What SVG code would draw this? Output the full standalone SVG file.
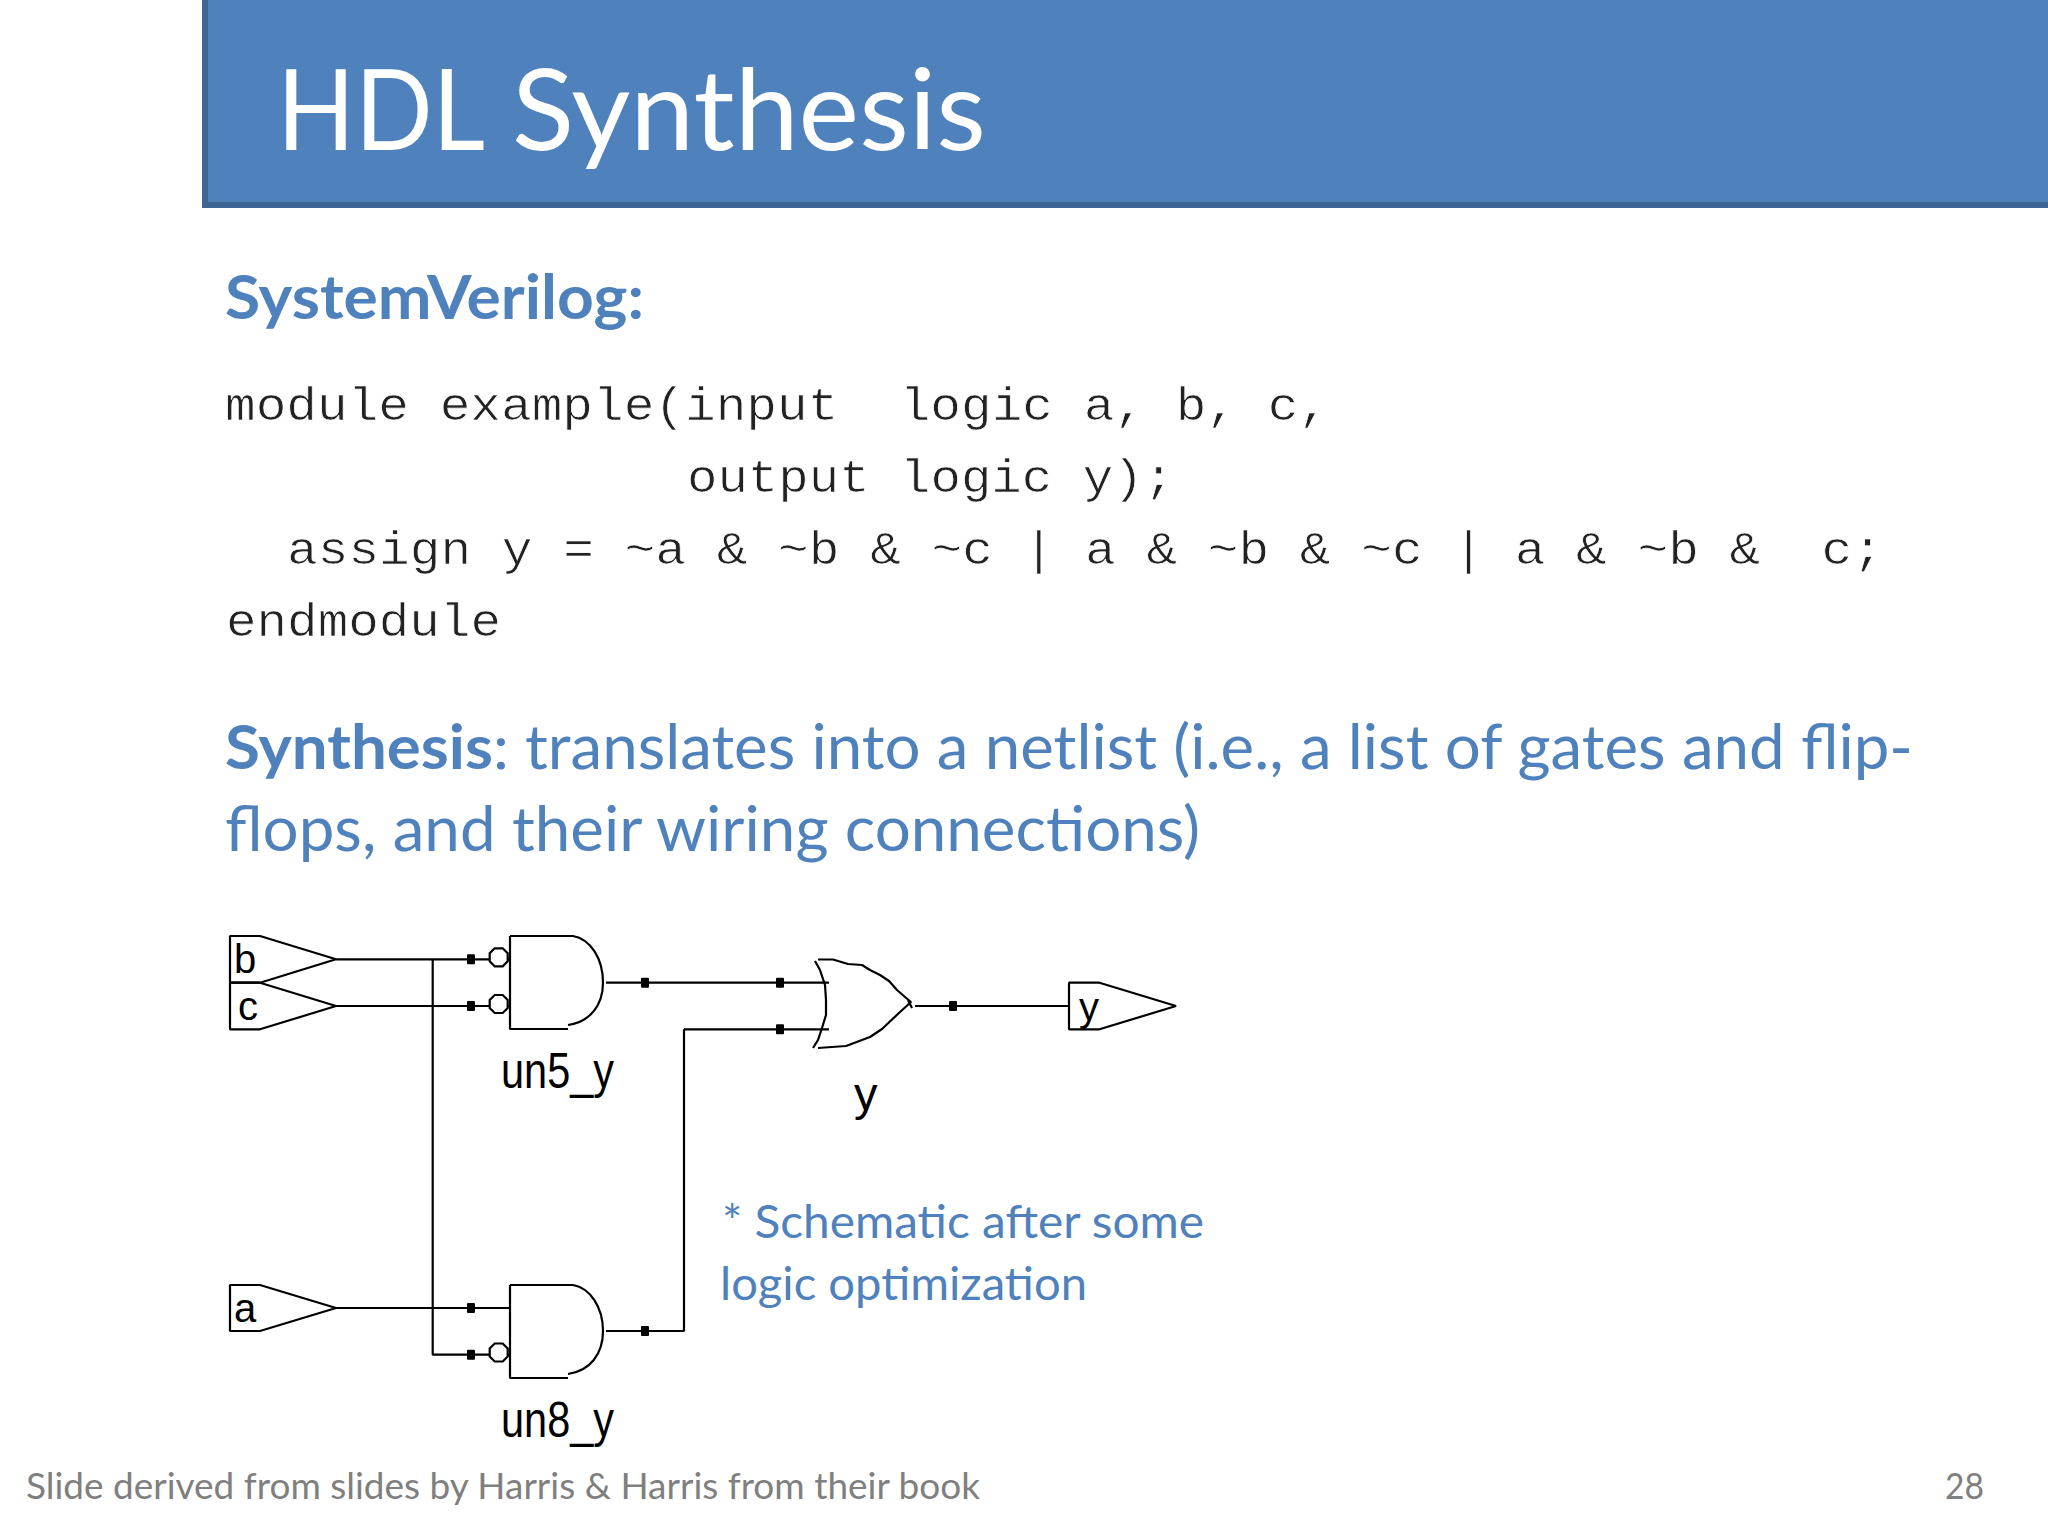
<svg xmlns="http://www.w3.org/2000/svg" width="2048" height="1536" viewBox="0 0 2048 1536">
<defs><style>
.blue{font-family:Lato,"Noto Sans",sans-serif;fill:#4f81bd}
.code{font-family:"Liberation Mono",monospace;font-size:47px;fill:#222;stroke:#fff;stroke-width:.7}
.sch{font-family:"Liberation Sans",Arial,sans-serif;fill:#000}
.w{fill:none;stroke:#000;stroke-width:2.2;stroke-linejoin:bevel}
.j{fill:#000}
.bub{fill:#fff;stroke:#000;stroke-width:2.2}
</style>
<path id="bubble" d="M-4-9H4L9-4V4L4 9H-4L-9 4V-4Z"/>
<rect id="dot" x="-4" y="-5" width="8" height="10" rx="1"/>
</defs>
<rect width="2048" height="1536" fill="#fff"/>
<g id="header">
<rect x="205" y="-5" width="1850" height="210" fill="#4f81bd" stroke="#3f6594" stroke-width="6"/>
<text y="150" font-size="112" fill="#fff" font-family="Lato,sans-serif"><tspan x="277" textLength="205" lengthAdjust="spacingAndGlyphs">HDL</tspan> <tspan x="512" textLength="474" lengthAdjust="spacingAndGlyphs">Synthesis</tspan></text>
</g>
<text class="blue" x="225" y="319" font-size="62" font-weight="700" textLength="419" lengthAdjust="spacingAndGlyphs">SystemVerilog:</text>
<g id="code">
<text class="code" x="225" y="420" xml:space="preserve" textLength="1104" lengthAdjust="spacingAndGlyphs">module example(input  logic a, b, c,</text>
<text class="code" x="687" y="492" textLength="487" lengthAdjust="spacingAndGlyphs">output logic y);</text>
<text class="code" x="287" y="564" xml:space="preserve" textLength="1596" lengthAdjust="spacingAndGlyphs">assign y = ~a &amp; ~b &amp; ~c | a &amp; ~b &amp; ~c | a &amp; ~b &amp;  c;</text>
<text class="code" x="226" y="636" textLength="275" lengthAdjust="spacingAndGlyphs">endmodule</text>
</g>
<text class="blue" x="225" y="769" font-size="61" textLength="1688" lengthAdjust="spacingAndGlyphs"><tspan font-weight="700">Synthesis</tspan>: translates into a netlist (i.e., a list of gates and flip-</text>
<text class="blue" x="225" y="851" font-size="61" textLength="975" lengthAdjust="spacingAndGlyphs">flops, and their wiring connections)</text>
<text class="blue" x="722" y="1238" font-size="46" textLength="482" lengthAdjust="spacingAndGlyphs">* Schematic after some</text>
<text class="blue" x="720" y="1300" font-size="46" textLength="367" lengthAdjust="spacingAndGlyphs">logic optimization</text>
<g id="connectors">
<path class="w" d="M336 959.300H498M336 1006H498M432.700 959.300V1354.700H498M336 1308H510"/>
<path class="w" d="M606 982.700H829M684 1029.300H829M606 1331H684V1029.300M915 1006H1069"/>
<g class="j">
<use href="#dot" x="471" y="959.300"/><use href="#dot" x="471" y="1006"/>
<use href="#dot" x="471" y="1308"/><use href="#dot" x="471" y="1354.700"/>
<use href="#dot" x="645" y="982.700"/><use href="#dot" x="645" y="1331"/>
<use href="#dot" x="780" y="982.700"/><use href="#dot" x="780" y="1029.300"/>
<use href="#dot" x="953" y="1006"/>
</g>
</g>
<g id="port-b"><path class="w" d="M230 936H260L336 959.300L260 982.700H230Z"/><text class="sch" x="234" y="973" font-size="40">b</text></g>
<g id="port-c"><path class="w" d="M230 982.700H260L336 1006L260 1029.300H230Z"/><text class="sch" x="238" y="1020" font-size="40">c</text></g>
<g id="port-a"><path class="w" d="M230 1285H260L336 1308L260 1331H230Z"/><text class="sch" x="234" y="1322" font-size="40">a</text></g>
<g id="port-y"><path class="w" d="M1069 982.700H1099.500L1176 1006L1099.500 1029.300H1069Z"/><text class="sch" x="1079" y="1021" font-size="40">y</text></g>
<g id="un5_y">
<path class="w" d="M510 936V1029H568M510 936H573C590 939 603 958 603 982.700C603 1005 590 1022 568 1025"/>
<use href="#bubble" class="bub" x="498.700" y="957.300"/><use href="#bubble" class="bub" x="498.700" y="1004"/>
<path class="w" d="M507 959.300H510M507 1006H510"/>
<text class="sch" x="501" y="1088" font-size="50" textLength="113" lengthAdjust="spacingAndGlyphs">un5_y</text>
</g>
<g id="un8_y">
<path class="w" d="M510 1285V1378H568M510 1285H573C590 1288 603 1307 603 1331C603 1354 590 1371 568 1374"/>
<use href="#bubble" class="bub" x="498.700" y="1352.500"/>
<path class="w" d="M507 1354.700H510"/>
<text class="sch" x="501" y="1437" font-size="50" textLength="113" lengthAdjust="spacingAndGlyphs">un8_y</text>
</g>
<g id="y">
<path class="w" d="M815 961L820 970L825 985L826 1000L826 1015L822 1028L818 1040L813 1048"/>
<path class="w" d="M818 959.500H833L848 964L862 965L870 970L880 975L889 981L897 990L905 997L911 1002L900 1012L882 1029L870 1037L846 1046L832 1047L818 1048M908 1000L912 1008"/>
<text class="sch" x="854" y="1110" font-size="47">y</text>
</g>
<text x="26" y="1499" font-size="37" fill="#7f7f7f" font-family="Lato,sans-serif" textLength="954" lengthAdjust="spacingAndGlyphs">Slide derived from slides by Harris &amp; Harris from their book</text>
<text x="1945" y="1499" font-size="37" fill="#7f7f7f" font-family="Lato,sans-serif" textLength="39" lengthAdjust="spacingAndGlyphs">28</text>
</svg>
